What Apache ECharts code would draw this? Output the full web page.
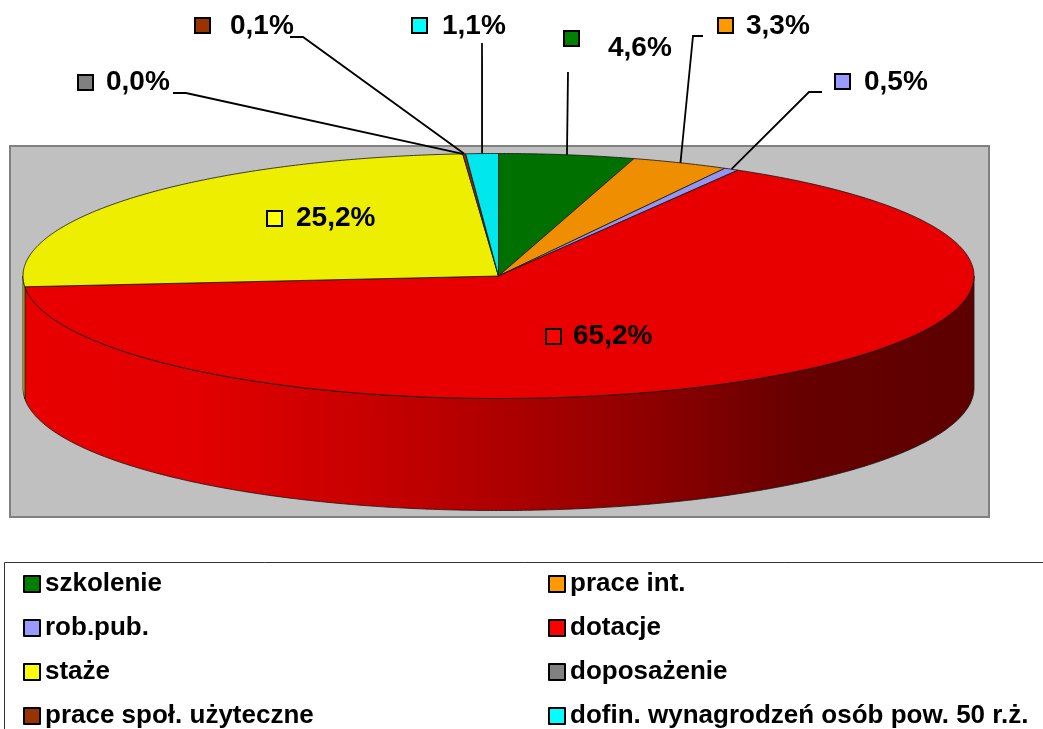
<!DOCTYPE html>
<html>
<head>
<meta charset="utf-8">
<style>
  html, body { margin: 0; padding: 0; background: #fff; }
  #chart { width: 1043px; height: 729px; }
</style>
<script src="https://cdn.jsdelivr.net/npm/echarts/dist/echarts.min.js"></script>
</head>
<body>
<div id="chart"></div>
<script>
// ---- data ----
const categories = ['szkolenie', 'prace int.', 'rob.pub.', 'dotacje', 'staże', 'doposażenie', 'prace społ. użyteczne', 'dofin. wynagrodzeń osób pow. 50 r.ż.'];
const shares = [4.6, 3.3, 0.5, 65.2, 25.2, 0.0, 0.1, 1.1];

// ---- styles ----
const legendColors = ['#008000', '#FF9900', '#9999FF', '#FF0000', '#FFFF00', '#808080', '#993300', '#00FFFF'];
const topColors    = ['#007000', '#EE8E00', '#9494F2', '#E80000', '#EEEE00', '#7A7A7A', '#8A2E00', '#00E8EE'];

// ---- layout (pixels) ----
const CX = 498.5, CY = 276, RX = 475.5, RY = 122.5, DEPTH = 112;
// label layout: key box left/top, text x & middle y, leader start and optional elbow
const labelLayout = [
  { kx: 563, ky: 30, tx: 608, ty: 48, lead: [[568, 72]] },
  { kx: 717, ky: 17, tx: 746, ty: 26, lead: [[703, 36], [693, 36]] },
  { kx: 834, ky: 73, tx: 864, ty: 82, lead: [[822, 92], [809, 92]] },
  { kx: 545, ky: 328, tx: 573, ty: 336, lead: null },
  { kx: 266, ky: 210, tx: 296, ty: 218, lead: null },
  { kx: 77, ky: 74, tx: 106, ty: 82, lead: [[173, 93], [186, 93]] },
  { kx: 194, ky: 17, tx: 230, ty: 26, lead: [[290, 37], [303, 37]] },
  { kx: 411, ky: 17, tx: 442, ty: 26, lead: [[482, 43]] }
];

const FONT = '"Liberation Sans", Arial, sans-serif';
const total = shares.reduce((a, b) => a + b, 0);

function P(t, dy) { return [CX + RX * Math.sin(t), CY - RY * Math.cos(t) + (dy || 0)]; }
function shade(hex, f) {
  const n = parseInt(hex.slice(1), 16);
  const r = Math.round(((n >> 16) & 255) * f), g = Math.round(((n >> 8) & 255) * f), b = Math.round((n & 255) * f);
  return 'rgb(' + r + ',' + g + ',' + b + ')';
}
function fmt(v) { return v.toFixed(1).replace('.', ',') + '%'; }

function renderItem(params, api) {
  const i = params.dataIndex;
  const v = api.value(0);
  let start = 0;
  for (let k = 0; k < i; k++) start += shares[k];
  const a0 = start / total * 2 * Math.PI;
  const a1 = (start + v) / total * 2 * Math.PI;
  const children = [];
  if (v > 0) {
    const n = Math.max(2, Math.ceil((a1 - a0) / (Math.PI / 360)));
    const pts = [[CX, CY]];
    for (let j = 0; j <= n; j++) pts.push(P(a0 + (a1 - a0) * j / n));
    children.push({ type: 'polygon', z2: 10, shape: { points: pts },
      style: { fill: topColors[i], stroke: '#151515', lineWidth: 0.8, lineJoin: 'round' } });
    const s = Math.max(a0, Math.PI / 2), e = Math.min(a1, 3 * Math.PI / 2);
    if (e > s) {
      const m = Math.max(2, Math.ceil((e - s) / (Math.PI / 360)));
      const wp = [];
      for (let j = 0; j <= m; j++) wp.push(P(s + (e - s) * j / m));
      for (let j = m; j >= 0; j--) wp.push(P(s + (e - s) * j / m, DEPTH));
      const base = topColors[i];
      const grad = new echarts.graphic.LinearGradient(CX - RX, 0, CX + RX, 0, [
        { offset: 0, color: shade(base, 1.0) },
        { offset: 0.18, color: shade(base, 0.98) },
        { offset: 0.4, color: shade(base, 0.83) },
        { offset: 0.6, color: shade(base, 0.67) },
        { offset: 0.82, color: shade(base, 0.44) },
        { offset: 1, color: shade(base, 0.4) }
      ], true);
      children.push({ type: 'polygon', z2: 5, shape: { points: wp },
        style: { fill: grad, stroke: '#151515', lineWidth: 0.8, lineJoin: 'round' } });
    }
  }
  const L = labelLayout[i];
  if (L) {
    children.push({ type: 'rect', z2: 100, shape: { x: L.kx + 1, y: L.ky + 1, width: 15, height: 15 },
      style: { fill: legendColors[i], stroke: '#000', lineWidth: 2 } });
    children.push({ type: 'text', z2: 100, x: L.tx, y: L.ty,
      style: { text: fmt(v), font: 'bold 28px ' + FONT, fill: '#000', align: 'left', verticalAlign: 'middle' } });
    if (L.lead) {
      const end = P((a0 + a1) / 2);
      children.push({ type: 'polyline', z2: 100, shape: { points: L.lead.concat([end]) },
        style: { stroke: '#000', lineWidth: 1.8, fill: null } });
    }
  }
  return { type: 'group', children: children };
}

const chart = echarts.init(document.getElementById('chart'), null, { renderer: 'canvas' });
const legendBase = {
  orient: 'vertical', top: 569, height: 220, width: 480, padding: 0, itemGap: 14,
  icon: 'rect', itemWidth: 16, itemHeight: 16,
  selectedMode: false,
  itemStyle: { borderColor: '#000', borderWidth: 2 },
  textStyle: { fontFamily: FONT, fontWeight: 'bold', fontSize: 26, color: '#000', lineHeight: 30 }
};
chart.setOption({
  animation: false,
  backgroundColor: '#fff',
  graphic: [
    { type: 'rect', z: -10, shape: { x: 10, y: 146, width: 979, height: 371 },
      style: { fill: '#C0C0C0', stroke: '#808080', lineWidth: 2 } },
    { type: 'rect', z: -10, shape: { x: 4.5, y: 562.5, width: 1100, height: 300 },
      style: { fill: null, stroke: '#333', lineWidth: 1 } }
  ],
  legend: [
    Object.assign({}, legendBase, { left: 23, data: [categories[0], categories[2], categories[4], categories[6]] }),
    Object.assign({}, legendBase, { left: 548, data: [categories[1], categories[3], categories[5], categories[7]] })
  ],
  series: [
    {
      type: 'custom', coordinateSystem: 'none', silent: true,
      data: shares.map((v, i) => ({ name: categories[i], value: [v] })),
      renderItem: renderItem
    },
    {
      type: 'pie', center: [-100, -100], radius: [0, 1], silent: true,
      label: { show: false }, labelLine: { show: false },
      data: shares.map((v, i) => ({ name: categories[i], value: v, itemStyle: { color: legendColors[i] } }))
    }
  ]
});
</script>
</body>
</html>
